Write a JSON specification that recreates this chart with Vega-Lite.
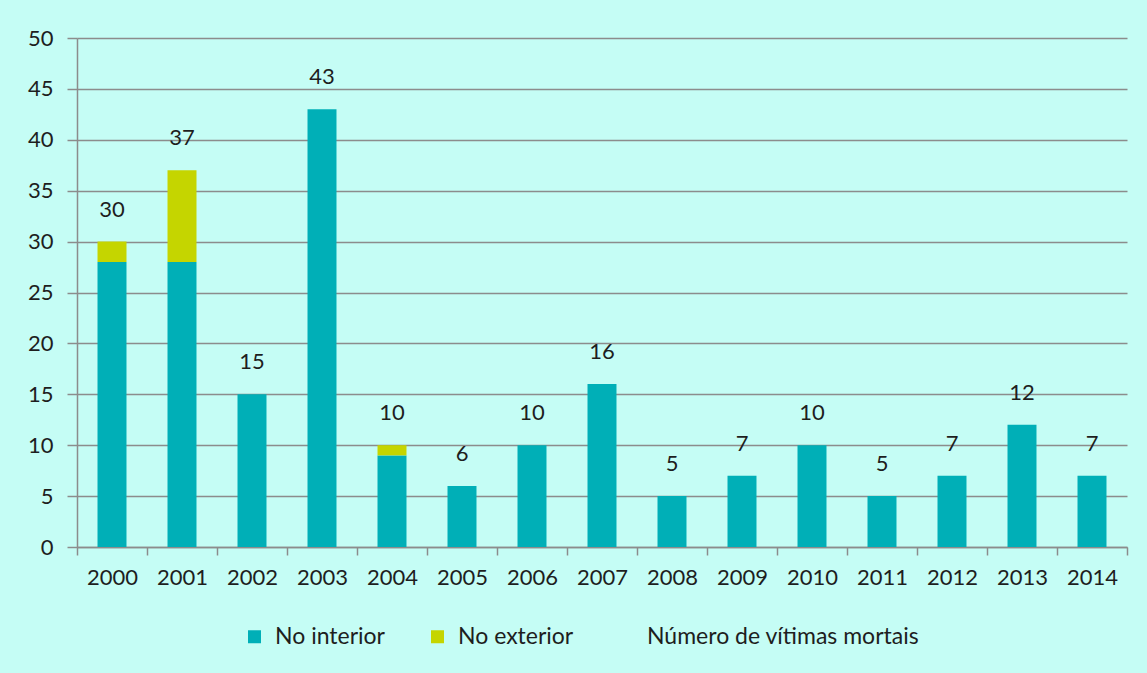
{
  "$schema": "https://vega.github.io/schema/vega-lite/v6.json",
  "width": 1050,
  "height": 509,
  "autosize": "none",
  "padding": {"left": 77, "top": 38, "right": 20, "bottom": 126},
  "background": "#C5FDF5",
  "config": {
    "font": "Lato",
    "view": {"stroke": null},
    "axis": {"labelFont": "Lato", "labelColor": "#1e1e1e", "labelFontSize": 22, "domainColor": "#8c8c8c", "tickColor": "#8c8c8c", "gridColor": "#8c8c8c", "domainWidth": 1.5, "tickWidth": 1.5, "gridWidth": 1.5, "title": null}
  },
  "data": {
    "values": [
      {"year": "2000", "serie": "No interior", "ord": 1, "value": 28},
      {"year": "2000", "serie": "No exterior", "ord": 2, "value": 2},
      {"year": "2001", "serie": "No interior", "ord": 1, "value": 28},
      {"year": "2001", "serie": "No exterior", "ord": 2, "value": 9},
      {"year": "2002", "serie": "No interior", "ord": 1, "value": 15},
      {"year": "2003", "serie": "No interior", "ord": 1, "value": 43},
      {"year": "2004", "serie": "No interior", "ord": 1, "value": 9},
      {"year": "2004", "serie": "No exterior", "ord": 2, "value": 1},
      {"year": "2005", "serie": "No interior", "ord": 1, "value": 6},
      {"year": "2006", "serie": "No interior", "ord": 1, "value": 10},
      {"year": "2007", "serie": "No interior", "ord": 1, "value": 16},
      {"year": "2008", "serie": "No interior", "ord": 1, "value": 5},
      {"year": "2009", "serie": "No interior", "ord": 1, "value": 7},
      {"year": "2010", "serie": "No interior", "ord": 1, "value": 10},
      {"year": "2011", "serie": "No interior", "ord": 1, "value": 5},
      {"year": "2012", "serie": "No interior", "ord": 1, "value": 7},
      {"year": "2013", "serie": "No interior", "ord": 1, "value": 12},
      {"year": "2014", "serie": "No interior", "ord": 1, "value": 7}
    ]
  },
  "encoding": {
    "x": {
      "field": "year", "type": "ordinal",
      "scale": {"type": "band", "paddingInner": 0, "paddingOuter": 0},
      "axis": {"labelAngle": 0, "tickBand": "extent", "tickSize": 8, "labelPadding": 12, "domain": true}
    }
  },
  "layer": [
    {
      "mark": {"type": "bar", "width": {"band": 0.414}},
      "encoding": {
        "y": {
          "field": "value", "type": "quantitative", "stack": "zero",
          "scale": {"domain": [0, 50], "nice": false},
          "axis": {"values": [0, 5, 10, 15, 20, 25, 30, 35, 40, 45, 50], "tickSize": 10, "labelPadding": 14, "grid": true, "domain": true}
        },
        "color": {
          "field": "serie", "type": "nominal",
          "scale": {"domain": ["No interior", "No exterior", "Número de vítimas mortais"], "range": ["#00AFB7", "#C5D500", "transparent"]},
          "legend": {
            "title": null, "orient": "none", "legendX": 166, "legendY": 587, "direction": "horizontal",
            "symbolType": "square", "symbolSize": 169, "symbolStrokeWidth": 0,
            "labelFontSize": 23, "labelFont": "Lato", "labelColor": "#1e1e1e", "labelOffset": 9,
            "columnPadding": 41, "labelLimit": 500
          }
        },
        "order": {"field": "ord", "type": "quantitative"}
      }
    },
    {
      "transform": [{"aggregate": [{"op": "sum", "field": "value", "as": "total"}], "groupby": ["year"]}],
      "mark": {"type": "text", "baseline": "middle", "dy": -32, "fontSize": 22, "color": "#1e1e1e"},
      "encoding": {
        "y": {"field": "total", "type": "quantitative"},
        "text": {"field": "total", "type": "quantitative"}
      }
    }
  ]
}
